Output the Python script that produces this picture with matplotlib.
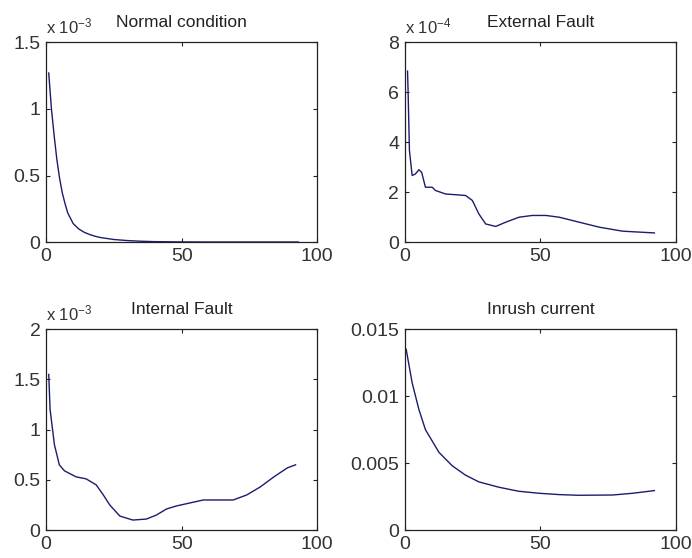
import matplotlib
matplotlib.use("Agg")
import matplotlib.pyplot as plt
from matplotlib.ticker import FuncFormatter

plt.rcParams['font.family'] = ['Liberation Sans', 'DejaVu Sans']
plt.rcParams['mathtext.fontset'] = 'custom'
plt.rcParams['mathtext.rm'] = 'Liberation Sans'
plt.rcParams['mathtext.default'] = 'regular'

# values
normal_x = [1, 2, 3, 4, 5, 6, 7, 8, 10, 12, 14, 16, 18, 20, 25, 30, 35, 40, 50, 60, 70, 80, 93]
normal_y = [1.27e-3, 1.0e-3, 0.8e-3, 0.62e-3, 0.48e-3, 0.37e-3, 0.29e-3, 0.22e-3, 0.14e-3,
            0.10e-3, 0.075e-3, 0.058e-3, 0.045e-3, 0.035e-3, 0.02e-3, 0.012e-3, 0.007e-3,
            0.004e-3, 0.002e-3, 0.001e-3, 0.001e-3, 0.001e-3, 0.001e-3]

external_x = [1, 1.2, 1.7, 2.7, 3.9, 5.2, 6.2, 7.6, 10.1, 11.3, 15, 22.4, 24.9, 27.3, 29.8,
              33.5, 37.2, 42.1, 47, 52, 56.9, 64.3, 71.7, 80.3, 92]
external_y = [6.85e-4, 6.07e-4, 3.67e-4, 2.67e-4, 2.73e-4, 2.9e-4, 2.8e-4, 2.2e-4, 2.2e-4,
              2.07e-4, 1.93e-4, 1.87e-4, 1.67e-4, 1.13e-4, 0.73e-4, 0.63e-4, 0.8e-4, 1.0e-4,
              1.07e-4, 1.07e-4, 1.0e-4, 0.8e-4, 0.6e-4, 0.44e-4, 0.37e-4]

internal_x = [1, 1.5, 3.1, 4.9, 6.8, 11.1, 14.8, 18.5, 21, 23.5, 27.2, 32, 37, 40.7, 44.4,
              48, 53, 58, 69, 74, 79, 84, 89, 92]
internal_y = [1.55e-3, 1.2e-3, 0.85e-3, 0.65e-3, 0.59e-3, 0.53e-3, 0.51e-3, 0.45e-3, 0.355e-3,
              0.25e-3, 0.14e-3, 0.10e-3, 0.11e-3, 0.15e-3, 0.21e-3, 0.24e-3, 0.27e-3, 0.30e-3,
              0.30e-3, 0.35e-3, 0.43e-3, 0.53e-3, 0.62e-3, 0.65e-3]

inrush_x = [0.5, 2.7, 5.2, 7.6, 12.6, 17.5, 22.4, 27.3, 34.7, 42, 49.5, 57, 64, 76.6, 84, 92]
inrush_y = [0.0135, 0.011, 0.009, 0.0075, 0.0058, 0.0048, 0.0041, 0.0036, 0.0032, 0.0029,
            0.00275, 0.00265, 0.0026, 0.00262, 0.00275, 0.00295]

panels = [
    ("Normal condition", normal_x, normal_y, [0, 0.5e-3, 1e-3, 1.5e-3], 1e-3, "-3"),
    ("External Fault", external_x, external_y, [0, 2e-4, 4e-4, 6e-4, 8e-4], 1e-4, "-4"),
    ("Internal Fault", internal_x, internal_y, [0, 0.5e-3, 1e-3, 1.5e-3, 2e-3], 1e-3, "-3"),
    ("Inrush current", inrush_x, inrush_y, [0, 0.005, 0.01, 0.015], 1, None),
]
positions = [
    [0.0665, 0.566, 0.392, 0.358],
    [0.585, 0.566, 0.392, 0.358],
    [0.0665, 0.050, 0.392, 0.360],
    [0.585, 0.050, 0.392, 0.360],
]

fig = plt.figure(figsize=(6.92, 5.58), dpi=100)

for (title, xs, ys, yticks, scale, expo), pos in zip(panels, positions):
    ax = fig.add_axes(pos)
    ax.plot(xs, ys, color='#1c1c6e', linewidth=1.0)
    ax.set_xlim(0, 100)
    ax.set_ylim(yticks[0], yticks[-1])
    ax.set_xticks([0, 50, 100])
    ax.set_yticks(yticks)
    ax.yaxis.set_major_formatter(FuncFormatter(lambda v, _, s=scale: '%g' % round(v / s, 6)))
    ax.tick_params(direction='in', length=3, width=0.8, top=True, right=True,
                   labelsize=14, pad=4, colors='#222222', labelcolor='#333333')
    for sp in ax.spines.values():
        sp.set_color('#222222')
        sp.set_linewidth(0.9)
    ax.set_title(title, fontsize=12.5, color='#222222', pad=11)
    if expo is not None:
        ax.text(0.0, 1.03, 'x 10$^{%s}$' % expo, transform=ax.transAxes,
                fontsize=12, color='#333333', ha='left', va='bottom')

fig.savefig("out.png", dpi=100)
